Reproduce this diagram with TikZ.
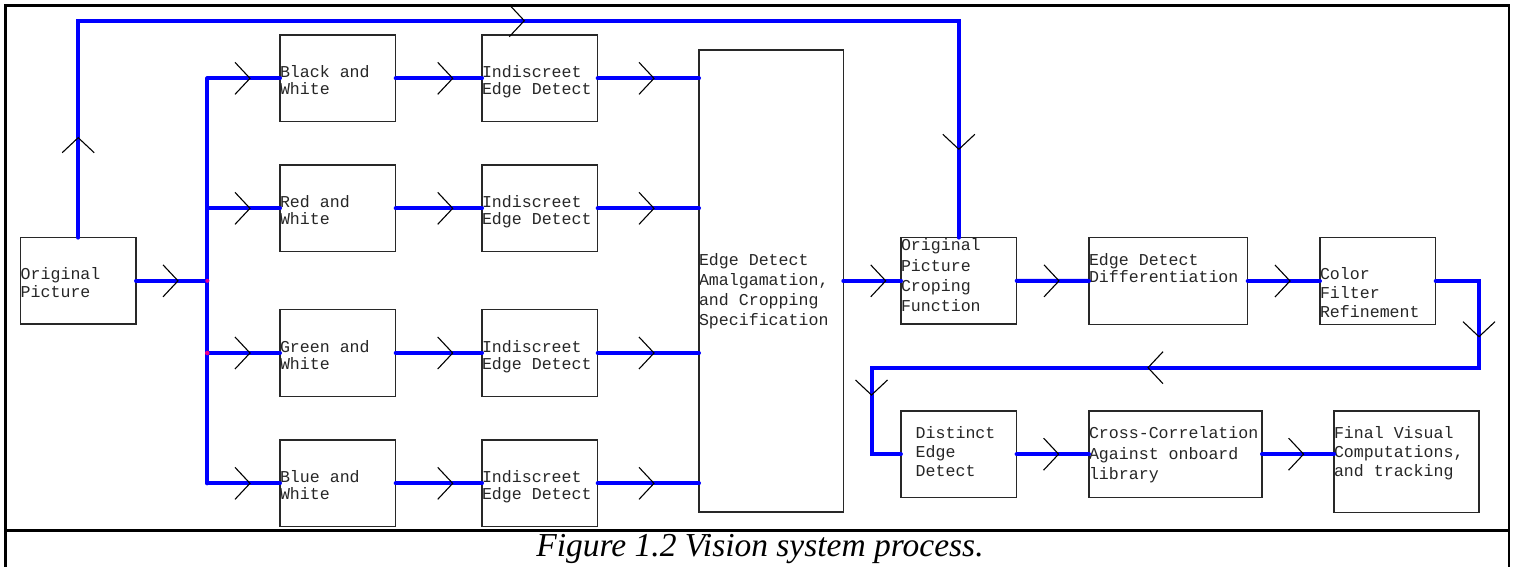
\documentclass[tikz,border=0pt]{standalone}
\usepackage{fontspec}
\newfontfamily\cour{Liberation Mono}
\newfontfamily\capfont{Liberation Serif}
\definecolor{flowblue}{RGB}{0,0,255}
\definecolor{boxline}{RGB}{40,40,40}
\begin{document}
\begin{tikzpicture}[x=1pt,y=-1pt,
  box/.style={draw=boxline,line width=1.3pt,inner sep=0pt,outer sep=0pt,minimum width=115.7pt,minimum height=86.5pt},
  lbl/.style={anchor=base west,inner sep=0pt,outer sep=0pt,text=black!85,font=\cour\fontsize{16.6}{18}\selectfont},
  flow/.style={draw=flowblue,line width=4pt,line cap=round},
  chev/.pic={\draw[black,line width=1.1pt] (-15,16) -- (0,0) -- (-15,-16);},
  frame/.style={draw=black,line width=2.2pt}
]
\useasboundingbox (0,0) rectangle (1515,567);
% outer frame and caption separator
\draw[frame] (5.5,570) -- (5.5,5.5) -- (1509,5.5) -- (1509,570);
\draw[frame] (5.5,530.5) -- (1509,530.5);
\node[inner sep=0pt,anchor=base,font=\capfont\itshape\fontsize{33.5}{36}\selectfont] (cap) at (760,556) {Figure 1.2 Vision system process.};

% boxes
\node[box] (op) at (78.2,280.85) {};
\node[box] (bw) at (337.85,78.35) {};
\node[box] (rw) at (337.85,208.35) {};
\node[box] (gw) at (337.85,353) {};
\node[box] (blw) at (337.85,483.35) {};
\node[box] (ie1) at (539.85,78.35) {};
\node[box] (ie2) at (539.85,208.35) {};
\node[box] (ie3) at (539.85,353) {};
\node[box] (ie4) at (539.85,483.35) {};
\node[box,minimum width=144.3pt,minimum height=462pt] (amal) at (771.15,281) {};
\node[box] (crop) at (958.85,280.85) {};
\node[box,minimum width=158.7pt] (diff) at (1168.35,281) {};
\node[box] (color) at (1377.85,281) {};
\node[box] (dist) at (958.75,454.15) {};
\node[box,minimum width=173pt] (cross) at (1175.5,454.15) {};
\node[box,minimum width=145pt,minimum height=101.3pt] (final) at (1406.5,461.65) {};

% labels
\node[lbl] (t-op-1) at (20.7,279.3) {Original};
\node[lbl] (t-op-2) at (20.7,297.3) {Picture};
\node[lbl] (t-bw-1) at (280,77.7) {Black and};
\node[lbl] (t-bw-2) at (280,94.7) {White};
\node[lbl] (t-rw-1) at (280,207.3) {Red and};
\node[lbl] (t-rw-2) at (280,224.3) {White};
\node[lbl] (t-gw-1) at (280,352.7) {Green and};
\node[lbl] (t-gw-2) at (280,369.3) {White};
\node[lbl] (t-blw-1) at (280,482.7) {Blue and};
\node[lbl] (t-blw-2) at (280,499.3) {White};
\node[lbl] (t-ie1-1) at (482,77.7) {Indiscreet};
\node[lbl] (t-ie1-2) at (482,94.7) {Edge Detect};
\node[lbl] (t-ie2-1) at (482,207.3) {Indiscreet};
\node[lbl] (t-ie2-2) at (482,224.3) {Edge Detect};
\node[lbl] (t-ie3-1) at (482,352.7) {Indiscreet};
\node[lbl] (t-ie3-2) at (482,369.3) {Edge Detect};
\node[lbl] (t-ie4-1) at (482,482.7) {Indiscreet};
\node[lbl] (t-ie4-2) at (482,499.3) {Edge Detect};
\node[lbl] (t-am-1) at (699,265.7) {Edge Detect};
\node[lbl] (t-am-2) at (699,285.7) {Amalgamation,};
\node[lbl] (t-am-3) at (699,305.7) {and Cropping};
\node[lbl] (t-am-4) at (699,325.7) {Specification};
\node[lbl] (t-cr-1) at (901,250.7) {Original};
\node[lbl] (t-cr-2) at (901,271) {Picture};
\node[lbl] (t-cr-3) at (901,291.3) {Croping};
\node[lbl] (t-cr-4) at (901,311.7) {Function};
\node[lbl] (t-di-1) at (1089,265.7) {Edge Detect};
\node[lbl] (t-di-2) at (1089,282.5) {Differentiation};
\node[lbl] (t-co-1) at (1320,279.3) {Color};
\node[lbl] (t-co-2) at (1320,298.3) {Filter};
\node[lbl] (t-co-3) at (1320,317.3) {Refinement};
\node[lbl] (t-ds-1) at (915.7,438.3) {Distinct};
\node[lbl] (t-ds-2) at (915.7,457.3) {Edge};
\node[lbl] (t-ds-3) at (915.7,476) {Detect};
\node[lbl] (t-cc-1) at (1089,438.3) {Cross-Correlation};
\node[lbl] (t-cc-2) at (1089,459) {Against onboard};
\node[lbl] (t-cc-3) at (1089,479.3) {library};
\node[lbl] (t-fi-1) at (1334,438.3) {Final Visual};
\node[lbl] (t-fi-2) at (1334,457.3) {Computations,};
\node[lbl] (t-fi-3) at (1334,476) {and tracking};

% helper coordinates
\coordinate (sp) at (207.3,280.85);
\coordinate (toprun) at (500,20.7);
\coordinate (fr) at (1479,367.7);
\coordinate (fl) at (871.5,367.7);

% connectors
\draw[flow] (op.east) -- (sp);
\draw[flow] (sp |- bw.west) -- (sp |- blw.west);
\draw[flow] (sp |- bw.west) -- (bw.west);
\draw[flow] (sp |- rw.west) -- (rw.west);
\draw[flow] (sp |- gw.west) -- (gw.west);
\draw[flow] (sp |- blw.west) -- (blw.west);
\draw[flow] (bw.east) -- (ie1.west);
\draw[flow] (rw.east) -- (ie2.west);
\draw[flow] (gw.east) -- (ie3.west);
\draw[flow] (blw.east) -- (ie4.west);
\draw[flow] (ie1.east) -- (amal.west |- ie1.east);
\draw[flow] (ie2.east) -- (amal.west |- ie2.east);
\draw[flow] (ie3.east) -- (amal.west |- ie3.east);
\draw[flow] (ie4.east) -- (amal.west |- ie4.east);
\draw[flow] (amal.east |- crop.west) -- (crop.west);
\draw[flow,line join=miter] (op.north) |- (toprun) -| (crop.north);
\draw[flow] (crop.east) -- (diff.west);
\draw[flow] (diff.east) -- (color.west);
\draw[flow,line join=miter] (color.east) -| (fr) -- (fl) |- (dist.west);
\draw[flow] (dist.east) -- (cross.west);
\draw[flow] (cross.east) -- (final.west |- cross.east);

% junction dots
\fill[magenta] (sp) circle (2);
\fill[magenta] (sp |- gw.west) circle (2.3);

% chevrons
\pic at (178,280.85) {chev};
\pic at (250,78.35) {chev};
\pic at (250,208.35) {chev};
\pic at (250,353) {chev};
\pic at (250,483.35) {chev};
\pic at (452.7,78.35) {chev};
\pic at (452.7,208.35) {chev};
\pic at (452.7,353) {chev};
\pic at (452.7,483.35) {chev};
\pic at (654,78.35) {chev};
\pic at (654,208.35) {chev};
\pic at (654,353) {chev};
\pic at (654,483.35) {chev};
\pic at (885.7,280.85) {chev};
\pic at (1059,280.85) {chev};
\pic at (1290,281) {chev};
\pic[rotate=90] at (78.2,137.7) {chev};
\pic at (524.3,20.7) {chev};
\pic[rotate=-90] at (958.85,149.3) {chev};
\pic[rotate=-90] at (1479,336.7) {chev};
\pic[rotate=180] at (1148,367.7) {chev};
\pic[rotate=-90] at (871.5,395) {chev};
\pic at (1058.6,454.15) {chev};
\pic at (1303.6,454.15) {chev};
\end{tikzpicture}
\end{document}
